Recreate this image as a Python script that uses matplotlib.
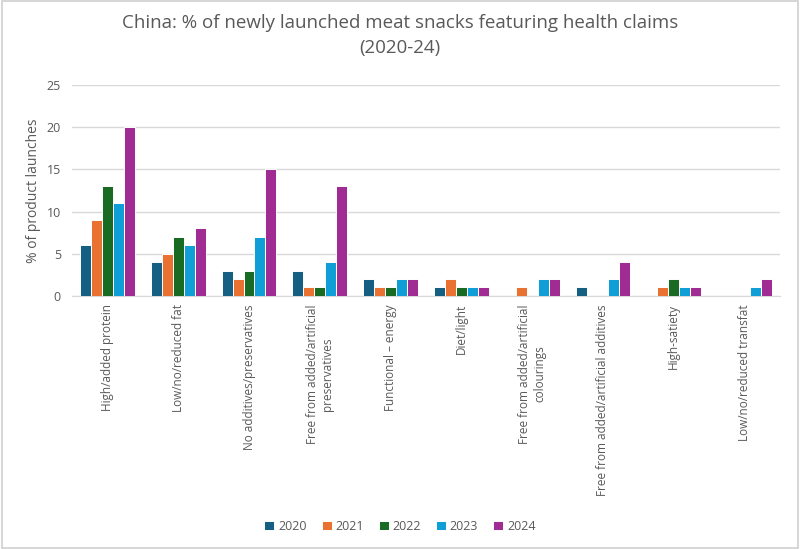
import numpy as np
import matplotlib
matplotlib.use("Agg")
import matplotlib.pyplot as plt
from matplotlib.patches import Rectangle

# health claims on newly launched meat snacks, China
claims = [
    "High/added protein",
    "Low/no/reduced fat",
    "No additives/preservatives",
    "Free from added/artificial\npreservatives",
    "Functional \u2013 energy",
    "Diet/light",
    "Free from added/artificial\ncolourings",
    "Free from added/artificial additives",
    "High-satiety",
    "Low/no/reduced transfat",
]
years = ["2020", "2021", "2022", "2023", "2024"]

pct_2020 = [6, 4, 3, 3, 2, 1, 0, 1, 0, 0]
pct_2021 = [9, 5, 2, 1, 1, 2, 1, 0, 1, 0]
pct_2022 = [13, 7, 3, 1, 1, 1, 0, 0, 2, 0]
pct_2023 = [11, 6, 7, 4, 2, 1, 2, 2, 1, 1]
pct_2024 = [20, 8, 15, 13, 2, 1, 2, 4, 1, 2]

series = [pct_2020, pct_2021, pct_2022, pct_2023, pct_2024]
colors = ["#156082", "#E97132", "#196B24", "#0F9ED5", "#A02B93"]

plt.rcParams["font.family"] = ["Open Sans", "DejaVu Sans"]
grey = "#595959"

fig = plt.figure(figsize=(8, 5.49), dpi=100)
ax = fig.add_axes([0.09, 0.461, 0.885, 0.384])

x = np.arange(len(claims))
w = 0.155
for i, (vals, yr) in enumerate(zip(series, years)):
    ax.bar(x + (i - 2) * w, vals, w, color=colors[i], label=yr,
           edgecolor="white", linewidth=0.7, zorder=3)

ax.set_ylim(0, 25)
ax.set_yticks(range(0, 26, 5))
ax.set_xlim(-0.5, len(claims) - 0.5)
ax.grid(axis="y", color="#d9d9d9", linewidth=1, zorder=0)
for s in ["top", "right", "left"]:
    ax.spines[s].set_visible(False)
ax.spines["bottom"].set_color("#d9d9d9")
ax.tick_params(axis="both", length=0, colors=grey, labelsize=9)
ax.tick_params(axis="y", pad=8)
ax.tick_params(axis="x", pad=6)
ax.set_xticks(x)
ax.set_xticklabels(claims, rotation=90, va="top", ha="center", fontsize=8.5, color=grey)
ax.set_ylabel("% of product launches", fontsize=10, color=grey, labelpad=4)

fig.suptitle("China: % of newly launched meat snacks featuring health claims\n(2020-24)",
             y=0.974, fontsize=13.5, color=grey, linespacing=1.5)

fig.legend(loc="center", bbox_to_anchor=(0.5, 0.041), ncol=5, frameon=False,
           fontsize=9, labelcolor=grey, handlelength=0.8, handleheight=0.8,
           handletextpad=0.3, columnspacing=1.2)

fig.patches.append(Rectangle((0.002, 0.002), 0.996, 0.996, transform=fig.transFigure,
                             fill=False, edgecolor="#d0d0d0", linewidth=1.2))

fig.savefig("out.png", dpi=100)
